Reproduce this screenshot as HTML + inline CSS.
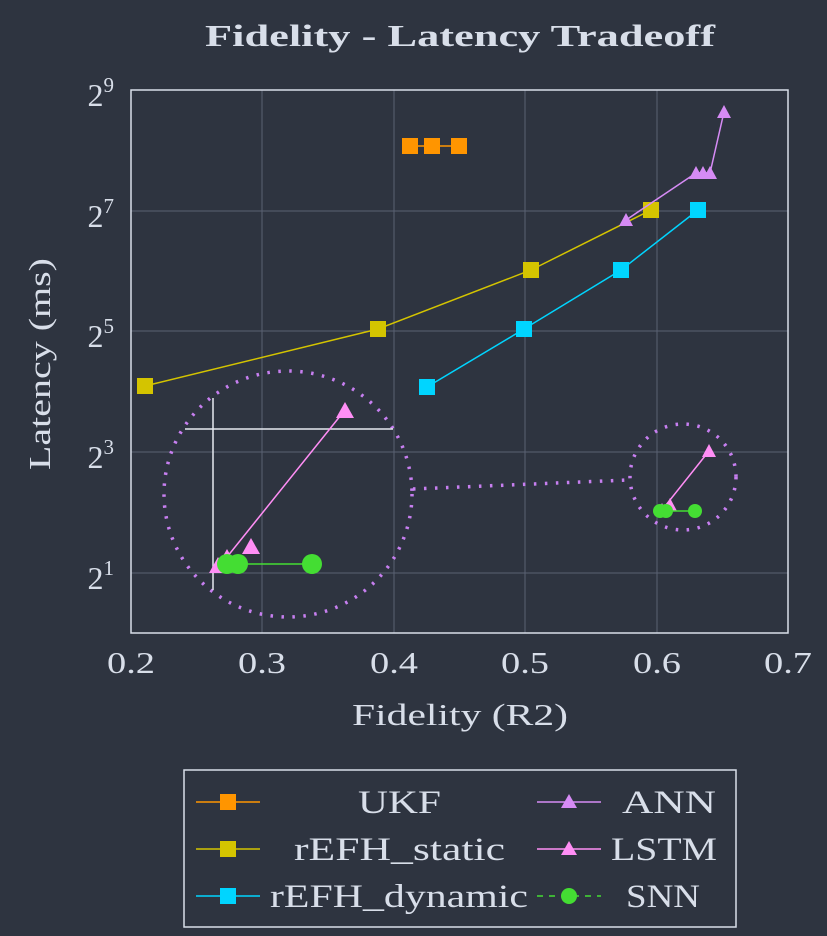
<!DOCTYPE html>
<html><head><meta charset="utf-8"><style>
html,body{margin:0;padding:0;background:#2e3440;}
svg{display:block;}
text{font-family:"Liberation Serif",serif;fill:#d8dee9;}
</style></head><body>
<svg width="827" height="936" viewBox="0 0 827 936" xmlns="http://www.w3.org/2000/svg">
<rect width="827" height="936" fill="#2e3440"/>
<text x="205" y="46" font-size="31" font-weight="bold" textLength="510" lengthAdjust="spacingAndGlyphs">Fidelity - Latency Tradeoff</text>
<!-- grid -->
<g stroke="#5a6272" stroke-width="1">
<line x1="262" y1="90" x2="262" y2="633"/><line x1="394" y1="90" x2="394" y2="633"/>
<line x1="525" y1="90" x2="525" y2="633"/><line x1="657" y1="90" x2="657" y2="633"/>
<line x1="131" y1="211" x2="788" y2="211"/><line x1="131" y1="331" x2="788" y2="331"/>
<line x1="131" y1="452" x2="788" y2="452"/><line x1="131" y1="573" x2="788" y2="573"/>
</g>
<rect x="131" y="90" width="657" height="543" fill="none" stroke="#d8dee9" stroke-width="1.5"/>
<!-- ticks labels -->
<g font-size="31">
<text x="107" y="673" textLength="48" lengthAdjust="spacingAndGlyphs">0.2</text>
<text x="238" y="673" textLength="48" lengthAdjust="spacingAndGlyphs">0.3</text>
<text x="370" y="673" textLength="48" lengthAdjust="spacingAndGlyphs">0.4</text>
<text x="501" y="673" textLength="48" lengthAdjust="spacingAndGlyphs">0.5</text>
<text x="633" y="673" textLength="48" lengthAdjust="spacingAndGlyphs">0.6</text>
<text x="764" y="673" textLength="48" lengthAdjust="spacingAndGlyphs">0.7</text>
</g>
<g font-size="32" text-anchor="end">
<text x="114" y="106">2<tspan font-size="21" dy="-14">9</tspan></text>
<text x="114" y="227">2<tspan font-size="21" dy="-14">7</tspan></text>
<text x="114" y="347">2<tspan font-size="21" dy="-14">5</tspan></text>
<text x="114" y="468">2<tspan font-size="21" dy="-14">3</tspan></text>
<text x="114" y="589">2<tspan font-size="21" dy="-14">1</tspan></text>
</g>
<text x="352" y="725" font-size="31" textLength="216" lengthAdjust="spacingAndGlyphs">Fidelity (R2)</text>
<text transform="translate(50,470) rotate(-90)" font-size="31" textLength="212" lengthAdjust="spacingAndGlyphs">Latency (ms)</text>
<!-- UKF -->
<polyline points="410,146 432,146 459,146" fill="none" stroke="#ff9500" stroke-width="1.5"/>
<g fill="#ff9500"><rect x="402" y="138" width="16" height="16"/><rect x="424" y="138" width="16" height="16"/><rect x="451" y="138" width="16" height="16"/></g>
<!-- rEFH static -->
<polyline points="145,386 378,329 531,270 651,210" fill="none" stroke="#d4c400" stroke-width="1.5"/>
<g fill="#d4c400"><rect x="137" y="378" width="16" height="16"/><rect x="370" y="321" width="16" height="16"/><rect x="523" y="262" width="16" height="16"/><rect x="643" y="202" width="16" height="16"/></g>
<!-- rEFH dynamic -->
<polyline points="427,387 524,329 621,270 698,210" fill="none" stroke="#00d5ff" stroke-width="1.5"/>
<g fill="#00d5ff"><rect x="419" y="379" width="16" height="16"/><rect x="516" y="321" width="16" height="16"/><rect x="613" y="262" width="16" height="16"/><rect x="690" y="202" width="16" height="16"/></g>
<!-- ANN -->
<polyline points="626,220 696,173 702,173 710,173 724,112" fill="none" stroke="#d68bf5" stroke-width="1.5"/>
<g fill="#d68bf5">
<polygon points="626,213 633,226 619,226"/><polygon points="696,166 703,179 689,179"/><polygon points="703,166 710,179 696,179"/><polygon points="710,166 717,179 703,179"/><polygon points="724,105 731,118 717,118"/>
</g>
<!-- inset big -->
<ellipse cx="288" cy="494" rx="124" ry="123" fill="none" stroke="#c77ff0" stroke-width="3.5" stroke-dasharray="2.5 8.5"/>
<line x1="413" y1="489" x2="628" y2="480" stroke="#c77ff0" stroke-width="3.5" stroke-dasharray="2.5 8.5"/>
<line x1="213" y1="398" x2="213" y2="590" stroke="#e5e9f0" stroke-width="1.5"/>
<line x1="185" y1="429" x2="393" y2="429" stroke="#e5e9f0" stroke-width="1.5"/>
<polyline points="345,410 227,557 218,566" fill="none" stroke="#ff8ef5" stroke-width="1.5"/>
<g fill="#ff8ef5"><polygon points="345,402 354,418 336,418"/><polygon points="251,538 260,554 242,554"/><polygon points="227,549 236,565 218,565"/><polygon points="218,557 227,573 209,573"/></g>
<line x1="227" y1="564" x2="312" y2="564" stroke="#44dd33" stroke-width="1.5"/>
<g fill="#44dd33"><circle cx="227" cy="564" r="10"/><circle cx="238" cy="564" r="10"/><circle cx="312" cy="564" r="10"/></g>
<!-- inset small -->
<ellipse cx="683" cy="477" rx="53" ry="53" fill="none" stroke="#c77ff0" stroke-width="3.5" stroke-dasharray="2.5 8.5"/>
<line x1="709" y1="451" x2="662" y2="510" stroke="#ff8ef5" stroke-width="1.5"/>
<g fill="#ff8ef5"><polygon points="709,444 716,457 702,457"/><polygon points="670,498 677,511 663,511"/><polygon points="662,503 669,516 655,516"/></g>
<line x1="660" y1="511" x2="695" y2="511" stroke="#44dd33" stroke-width="1.5"/>
<g fill="#44dd33"><circle cx="660" cy="511" r="7"/><circle cx="666" cy="511" r="7"/><circle cx="695" cy="511" r="7"/></g>
<!-- legend -->
<rect x="184" y="770" width="552" height="157" fill="#2e3440" stroke="#d8dee9" stroke-width="1.5"/>
<line x1="196" y1="802" x2="260" y2="802" stroke="#ff9500" stroke-width="1.5"/><rect x="220" y="794" width="16" height="16" fill="#ff9500"/>
<line x1="196" y1="849" x2="260" y2="849" stroke="#d4c400" stroke-width="1.5"/><rect x="220" y="841" width="16" height="16" fill="#d4c400"/>
<line x1="196" y1="896" x2="260" y2="896" stroke="#00d5ff" stroke-width="1.5"/><rect x="220" y="888" width="16" height="16" fill="#00d5ff"/>
<line x1="537" y1="802" x2="601" y2="802" stroke="#d68bf5" stroke-width="1.5"/><polygon points="569,794 577,808 561,808" fill="#d68bf5"/>
<line x1="537" y1="849" x2="601" y2="849" stroke="#ff8ef5" stroke-width="1.5"/><polygon points="569,841 577,855 561,855" fill="#ff8ef5"/>
<line x1="537" y1="896" x2="601" y2="896" stroke="#44dd33" stroke-width="1.5" stroke-dasharray="6 6"/><circle cx="569" cy="896" r="8" fill="#44dd33"/>
<g font-size="33" lengthAdjust="spacingAndGlyphs">
<text x="358" y="813" textLength="83" lengthAdjust="spacingAndGlyphs">UKF</text>
<text x="294" y="860" textLength="211" lengthAdjust="spacingAndGlyphs">rEFH_static</text>
<text x="270" y="907" textLength="258" lengthAdjust="spacingAndGlyphs">rEFH_dynamic</text>
<text x="622" y="813" textLength="94" lengthAdjust="spacingAndGlyphs">ANN</text>
<text x="611" y="860" textLength="106" lengthAdjust="spacingAndGlyphs">LSTM</text>
<text x="626" y="907" textLength="74" lengthAdjust="spacingAndGlyphs">SNN</text>
</g>
</svg>
</body></html>
